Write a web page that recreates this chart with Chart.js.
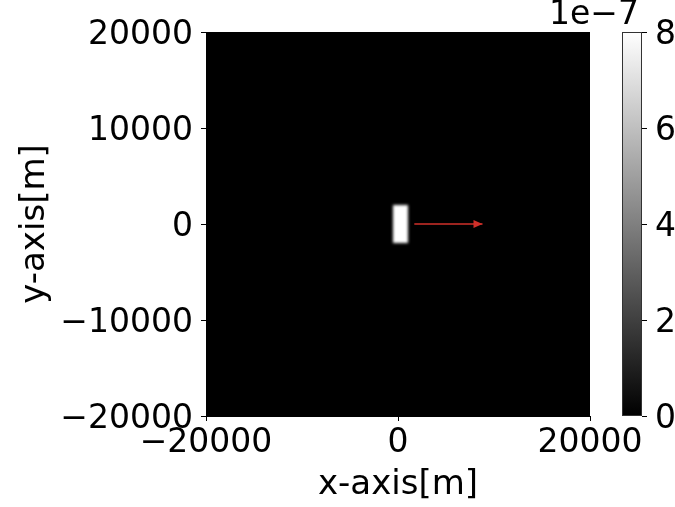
<!DOCTYPE html>
<html>
<head>
<meta charset="utf-8">
<script src="https://cdn.jsdelivr.net/npm/chart.js@4"></script>
<style>
  html, body { margin: 0; padding: 0; background: #fff; }
  #wrap { position: relative; width: 675px; height: 507px; }
  #main { position: absolute; left: 0; top: 0; }
  #cbar { position: absolute; left: 600px; top: 0; }
</style>
</head>
<body>
<div id="wrap">
  <canvas id="main" width="675" height="507"></canvas>
  <canvas id="cbar" width="75" height="507"></canvas>
</div>
<script>
// ---- data ----
const axisMin = -20000, axisMax = 20000;
const xTicksStep = 20000;
const yTicksStep = 10000;
const cellXEdges = [-500, 0, 500, 1000];            // field cell edges, x [m]
const cellYEdges = [-2000, -1000, 0, 1000, 2000];   // field cell edges, y [m]
const fieldValues = [                                // rows: y cells (bottom->top), cols: x cells
  [8.0e-7, 8.0e-7, 8.0e-7],
  [8.0e-7, 8.0e-7, 8.0e-7],
  [8.0e-7, 8.0e-7, 8.0e-7],
  [8.0e-7, 8.0e-7, 8.0e-7]
];
const arrowX = [1700, 8800];
const arrowY = [0, 0];
const cbarMin = 0, cbarMax = 8, cbarStep = 2;
const cbarScaleLabel = '1e\u22127';
const xTitle = 'x-axis[m]';
const yTitle = 'y-axis[m]';

const FONT = 'DejaVu Sans';
const TICK_SIZE = 33, TITLE_SIZE = 34;
const fmt = v => (v < 0 ? '\u2212' + Math.abs(v) : String(v));

const fieldPlugin = {
  id: 'field',
  beforeDatasetsDraw(chart) {
    const {ctx, chartArea: a, scales: {x, y}} = chart;
    const W = chart.width, H = chart.height;
    const off = document.createElement('canvas');
    off.width = W; off.height = H;
    const o = off.getContext('2d');
    for (let j = 0; j < fieldValues.length; j++) {
      for (let i = 0; i < fieldValues[j].length; i++) {
        const v = fieldValues[j][i] / 1e-7;
        const g = Math.round(255 * Math.max(0, Math.min(1, (v - cbarMin) / (cbarMax - cbarMin))));
        o.fillStyle = `rgb(${g},${g},${g})`;
        const x0 = Math.round(x.getPixelForValue(cellXEdges[i]));
        const x1 = Math.round(x.getPixelForValue(cellXEdges[i + 1]));
        const y0 = Math.round(y.getPixelForValue(cellYEdges[j]));
        const y1 = Math.round(y.getPixelForValue(cellYEdges[j + 1]));
        o.fillRect(Math.min(x0, x1), Math.min(y0, y1), Math.abs(x1 - x0), Math.abs(y1 - y0));
      }
    }
    ctx.save();
    ctx.fillStyle = '#000';
    ctx.fillRect(a.left, a.top, a.right - a.left, a.bottom - a.top);
    ctx.beginPath();
    ctx.rect(a.left, a.top, a.right - a.left, a.bottom - a.top);
    ctx.clip();
    ctx.filter = 'blur(1.5px)';
    ctx.drawImage(off, 0, 0);
    ctx.restore();
  },
  afterDatasetsDraw(chart) {
    const meta = chart.getDatasetMeta(0);
    const pts = meta.data;
    if (pts.length < 2) return;
    const p0 = pts[pts.length - 2], p1 = pts[pts.length - 1];
    const ang = Math.atan2(p1.y - p0.y, p1.x - p0.x);
    const ctx = chart.ctx;
    const L = 9, W = 4;
    ctx.save();
    ctx.translate(p1.x, p1.y);
    ctx.rotate(ang);
    ctx.fillStyle = '#d0302a';
    ctx.beginPath();
    ctx.moveTo(0, 0);
    ctx.lineTo(-L, -W);
    ctx.lineTo(-L, W);
    ctx.closePath();
    ctx.fill();
    ctx.restore();
  },
  afterDraw(chart) {
    const ctx = chart.ctx;
    ctx.save();
    ctx.font = `${TICK_SIZE}px "${FONT}"`;
    ctx.fillStyle = '#000';
    ctx.textAlign = 'right';
    ctx.textBaseline = 'middle';
    ctx.fillText(cbarScaleLabel, 639, 15);
    ctx.restore();
  }
};

new Chart(document.getElementById('main'), {
  type: 'scatter',
  data: {
    datasets: [{
      data: arrowX.map((v, i) => ({x: v, y: arrowY[i]})),
      showLine: true,
      borderColor: '#d0302a',
      borderWidth: 1.5,
      pointRadius: 0,
      pointHoverRadius: 0
    }]
  },
  plugins: [fieldPlugin],
  options: {
    responsive: false,
    animation: false,
    events: [],
    layout: { padding: { left: 0, right: 85, top: 32, bottom: 0 } },
    plugins: { legend: { display: false }, tooltip: { enabled: false } },
    scales: {
      x: {
        type: 'linear', min: axisMin, max: axisMax,
        afterFit(s) { s.height = 91; },
        ticks: { stepSize: xTicksStep, color: '#000', font: { family: FONT, size: TICK_SIZE }, padding: 3, maxRotation: 0, callback: fmt },
        grid: { drawOnChartArea: false, drawTicks: true, tickLength: 5, color: '#000' },
        border: { display: true, color: '#000', width: 1 },
        title: { display: true, text: xTitle, color: '#000', font: { family: FONT, size: TITLE_SIZE }, padding: { top: 0, bottom: 1 } }
      },
      y: {
        type: 'linear', min: axisMin, max: axisMax,
        afterFit(s) { s.width = 206; },
        ticks: { stepSize: yTicksStep, color: '#000', font: { family: FONT, size: TICK_SIZE }, padding: 8, labelOffset: 3, callback: fmt },
        grid: { drawOnChartArea: false, drawTicks: true, tickLength: 5, color: '#000' },
        border: { display: true, color: '#000', width: 1 },
        title: { display: true, text: yTitle, color: '#000', font: { family: FONT, size: TITLE_SIZE }, padding: { top: 15, bottom: 0 } }
      }
    }
  }
});

// ---- colorbar ----
const cbarOutline = {
  id: 'cbarOutline',
  afterDatasetsDraw(chart) {
    const {ctx, chartArea: a} = chart;
    ctx.save();
    ctx.strokeStyle = '#333';
    ctx.lineWidth = 1;
    ctx.strokeRect(a.left + 0.5, a.top + 0.5, a.right - a.left - 1, a.bottom - a.top - 1);
    ctx.restore();
  }
};

new Chart(document.getElementById('cbar'), {
  type: 'bar',
  data: {
    labels: [''],
    datasets: [{
      data: [[cbarMin, cbarMax]],
      barPercentage: 1,
      categoryPercentage: 1,
      borderWidth: 0,
      backgroundColor(ctx) {
        const a = ctx.chart.chartArea;
        if (!a) return '#888';
        const g = ctx.chart.ctx.createLinearGradient(0, a.bottom, 0, a.top);
        g.addColorStop(0, '#000');
        g.addColorStop(1, '#fff');
        return g;
      }
    }]
  },
  plugins: [cbarOutline],
  options: {
    responsive: false,
    animation: false,
    events: [],
    layout: { padding: { left: 22, right: 0, top: 32, bottom: 91 } },
    plugins: { legend: { display: false }, tooltip: { enabled: false } },
    scales: {
      x: { display: false },
      y: {
        position: 'right', min: cbarMin, max: cbarMax,
        afterFit(s) { s.width = 33; },
        ticks: { stepSize: cbarStep, color: '#000', font: { family: FONT, size: TICK_SIZE }, padding: 8, labelOffset: 3 },
        grid: { drawOnChartArea: false, drawTicks: true, tickLength: 5, color: '#000' },
        border: { display: false }
      }
    }
  }
});
</script>
</body>
</html>
